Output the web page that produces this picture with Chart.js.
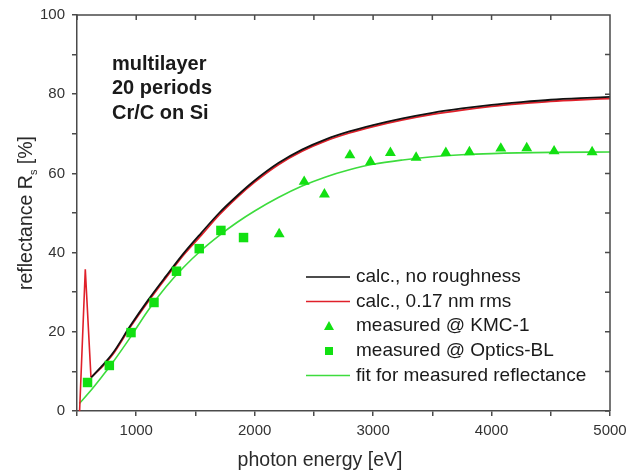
<!DOCTYPE html>
<html>
<head>
<meta charset="utf-8">
<script src="https://cdn.jsdelivr.net/npm/chart.js@4.4.1/dist/chart.umd.min.js"></script>
<style>
  html, body { margin: 0; padding: 0; background: #fff; }
</style>
</head>
<body>
<canvas id="mychart" width="629" height="476"></canvas>
<script>
// calculated reflectance, no roughness
let calcEnergy = [620, 700, 800, 950, 1100, 1250, 1400, 1550, 1700, 1850, 2000, 2200, 2400, 2600, 2800, 3000, 3250, 3500, 3750, 4000, 4250, 4500, 4750, 5000];
let calcNoRough = [8.5, 11.0, 14.5, 21.5, 28.0, 34.0, 39.8, 45.0, 50.0, 54.3, 58.2, 62.6, 66.0, 68.6, 70.6, 72.2, 73.9, 75.3, 76.4, 77.3, 78.0, 78.6, 79.0, 79.3];

// calculated with 0.17 nm rms roughness: sharp spike near 570 eV, then smooth part
let spikeEnergy = [522, 570, 618];
let spikeR = [0, 35.8, 8.5];
let roughEnergy = [618, 700, 800, 950, 1100, 1250, 1400, 1550, 1700, 1850, 2000, 2200, 2400, 2600, 2800, 3000, 3250, 3500, 3750, 4000, 4250, 4500, 4750, 5000];
let calcRough = [8.5, 10.8, 14.2, 21.2, 27.6, 33.6, 39.4, 44.4, 49.5, 53.9, 57.8, 62.2, 65.6, 68.2, 70.2, 71.8, 73.5, 74.9, 76.0, 76.9, 77.6, 78.2, 78.6, 78.9];

// measured @ KMC-1 (triangles)
let kmcEnergy = [2207, 2418, 2589, 2804, 2978, 3146, 3363, 3614, 3813, 4078, 4297, 4528, 4849];
let kmcR = [44.7, 57.9, 54.7, 64.6, 62.9, 65.2, 64.0, 65.2, 65.4, 66.3, 66.4, 65.6, 65.4];

// measured @ Optics-BL (squares)
let optEnergy = [589, 773, 956, 1150, 1340, 1532, 1715, 1906];
let optR = [7.2, 11.5, 19.8, 27.4, 35.3, 41.0, 45.6, 43.8];

// fit for measured reflectance
let fitEnergy = [520, 600, 700, 800, 950, 1100, 1250, 1400, 1550, 1700, 1850, 2000, 2200, 2400, 2600, 2800, 3000, 3250, 3500, 3750, 4000, 4500, 5000];
let fitR = [1.9, 4.6, 8.3, 12.2, 18.6, 25.4, 31.3, 36.3, 40.6, 44.3, 47.6, 50.5, 53.9, 56.8, 59.1, 60.9, 62.3, 63.4, 64.2, 64.7, 65.0, 65.3, 65.4];

let xTickStep = 500, xMin = 500, xMax = 5000;
let yTickStep = 10, yMin = 0, yMax = 100;

let annotation = ['multilayer', '20 periods', 'Cr/C on Si'];
let legendLabels = ['calc., no roughness', 'calc., 0.17 nm rms', 'measured @ KMC-1', 'measured @ Optics-BL', 'fit for measured reflectance'];

function pts(xs, ys) {
  return xs.map((x, i) => ({ x: x, y: ys[i] }));
}

let FONT = '"Liberation Sans", Arial, sans-serif';
let GREEN = '#12e012';
let RED = '#e0202a';
let FITGREEN = '#3ddc3d';
let AXIS = '#4a4a4a';

// frame, inner ticks on top/right, titles, annotation, legend
let decor = {
  id: 'decor',
  afterDraw(chart) {
    let ctx = chart.ctx;
    let a = chart.chartArea;
    let xs = chart.scales.x, ys = chart.scales.y;
    ctx.save();
    ctx.strokeStyle = AXIS;
    ctx.lineWidth = 1.5;
    ctx.beginPath();
    ctx.moveTo(a.left, a.top); ctx.lineTo(a.right, a.top); ctx.lineTo(a.right, a.bottom);
    for (let v = xMin; v <= xMax; v += xTickStep) {
      let px = xs.getPixelForValue(v);
      ctx.moveTo(px, a.top); ctx.lineTo(px, a.top + 5);
    }
    for (let v = yMin; v <= yMax; v += yTickStep) {
      let py = ys.getPixelForValue(v);
      ctx.moveTo(a.right, py); ctx.lineTo(a.right - 5, py);
    }
    ctx.stroke();

    // axis titles
    ctx.fillStyle = '#2a2a2a';
    ctx.font = '19.5px ' + FONT;
    ctx.textAlign = 'center';
    ctx.textBaseline = 'middle';
    ctx.fillText('photon energy [eV]', 320, 461);

    ctx.save();
    ctx.translate(27, (a.top + a.bottom) / 2);
    ctx.rotate(-Math.PI / 2);
    ctx.textAlign = 'left';
    ctx.textBaseline = 'middle';
    ctx.font = '19.5px ' + FONT;
    let p1 = 'reflectance R', p3 = ' [%]';
    let w1 = ctx.measureText(p1).width, w3 = ctx.measureText(p3).width;
    ctx.font = '11px ' + FONT;
    let w2 = ctx.measureText('s').width;
    let x0 = -(w1 + w2 + w3) / 2;
    ctx.font = '19.5px ' + FONT;
    ctx.fillText(p1, x0, 0);
    ctx.font = '11px ' + FONT;
    ctx.fillText('s', x0 + w1, 7);
    ctx.font = '19.5px ' + FONT;
    ctx.fillText(p3, x0 + w1 + w2, 0);
    ctx.restore();

    // annotation
    ctx.fillStyle = '#1a1a1a';
    ctx.font = 'bold 20px ' + FONT;
    ctx.textAlign = 'left';
    ctx.textBaseline = 'middle';
    annotation.forEach((t, i) => ctx.fillText(t, 112, 64 + i * 24.5));

    // legend
    let rows = [277, 301.5, 326, 351, 375.5];
    ctx.font = '19px ' + FONT;
    ctx.fillStyle = '#1a1a1a';
    legendLabels.forEach((t, i) => ctx.fillText(t, 356, rows[i]));
    ctx.lineWidth = 1.5;
    ctx.strokeStyle = '#111';
    ctx.beginPath(); ctx.moveTo(306, rows[0]); ctx.lineTo(350, rows[0]); ctx.stroke();
    ctx.strokeStyle = RED;
    ctx.beginPath(); ctx.moveTo(306, rows[1]); ctx.lineTo(350, rows[1]); ctx.stroke();
    ctx.strokeStyle = FITGREEN;
    ctx.beginPath(); ctx.moveTo(306, rows[4]); ctx.lineTo(350, rows[4]); ctx.stroke();
    ctx.fillStyle = GREEN;
    ctx.beginPath();
    ctx.moveTo(329, rows[2] - 5); ctx.lineTo(334, rows[2] + 4); ctx.lineTo(324, rows[2] + 4);
    ctx.closePath(); ctx.fill();
    ctx.fillRect(325, rows[3] - 4, 8, 8);
    ctx.restore();
  }
};

let mychart = document.getElementById('mychart').getContext('2d');

let obj = new Chart(mychart, {
  type: 'scatter',
  data: {
    datasets: [
      {
        label: legendLabels[2],
        data: pts(kmcEnergy, kmcR),
        pointStyle: 'triangle',
        pointRadius: 6.3,
        backgroundColor: GREEN,
        borderColor: GREEN,
        borderWidth: 0,
        order: 0
      },
      {
        label: legendLabels[3],
        data: pts(optEnergy, optR),
        pointStyle: 'rect',
        pointRadius: 6.7,
        backgroundColor: GREEN,
        borderColor: GREEN,
        borderWidth: 0,
        order: 0
      },
      {
        label: legendLabels[0],
        data: pts(calcEnergy, calcNoRough),
        showLine: true,
        pointRadius: 0,
        borderColor: '#111',
        borderWidth: 1.8,
        cubicInterpolationMode: 'monotone',
        order: 1
      },
      {
        label: legendLabels[1],
        data: pts(roughEnergy, calcRough),
        showLine: true,
        pointRadius: 0,
        borderColor: RED,
        borderWidth: 1.8,
        cubicInterpolationMode: 'monotone',
        order: 2
      },
      {
        label: legendLabels[1] + ' (spike)',
        data: pts(spikeEnergy, spikeR),
        showLine: true,
        pointRadius: 0,
        borderColor: RED,
        borderWidth: 1.6,
        tension: 0,
        order: 2
      },
      {
        label: legendLabels[4],
        data: pts(fitEnergy, fitR),
        showLine: true,
        pointRadius: 0,
        borderColor: FITGREEN,
        borderWidth: 1.6,
        cubicInterpolationMode: 'monotone',
        order: 3
      }
    ]
  },
  options: {
    responsive: false,
    animation: false,
    layout: { padding: { left: 0, right: 19, top: 15, bottom: 0 } },
    plugins: {
      legend: { display: false },
      tooltip: { enabled: false }
    },
    scales: {
      x: {
        type: 'linear',
        min: xMin, max: xMax,
        afterFit: s => { s.height = 65; s.paddingLeft = 0; s.paddingRight = 0; },
        border: { display: true, color: AXIS, width: 1.5 },
        grid: { display: true, drawOnChartArea: false, drawTicks: true, tickLength: 5, color: AXIS, lineWidth: 1.5 },
        ticks: {
          stepSize: xTickStep,
          autoSkip: false,
          maxRotation: 0,
          padding: 6,
          color: '#333',
          font: { family: FONT, size: 15 },
          callback: v => (v % 1000 === 0 ? v : '')
        }
      },
      y: {
        min: yMin, max: yMax,
        afterFit: s => { s.width = 77; s.paddingTop = 0; s.paddingBottom = 0; },
        border: { display: true, color: AXIS, width: 1.5 },
        grid: { display: true, drawOnChartArea: false, drawTicks: true, tickLength: 5, color: AXIS, lineWidth: 1.5 },
        ticks: {
          stepSize: yTickStep,
          autoSkip: false,
          padding: 7,
          color: '#333',
          font: { family: FONT, size: 15 },
          callback: v => (v % 20 === 0 ? v : '')
        }
      }
    }
  },
  plugins: [decor]
});
</script>
</body>
</html>
